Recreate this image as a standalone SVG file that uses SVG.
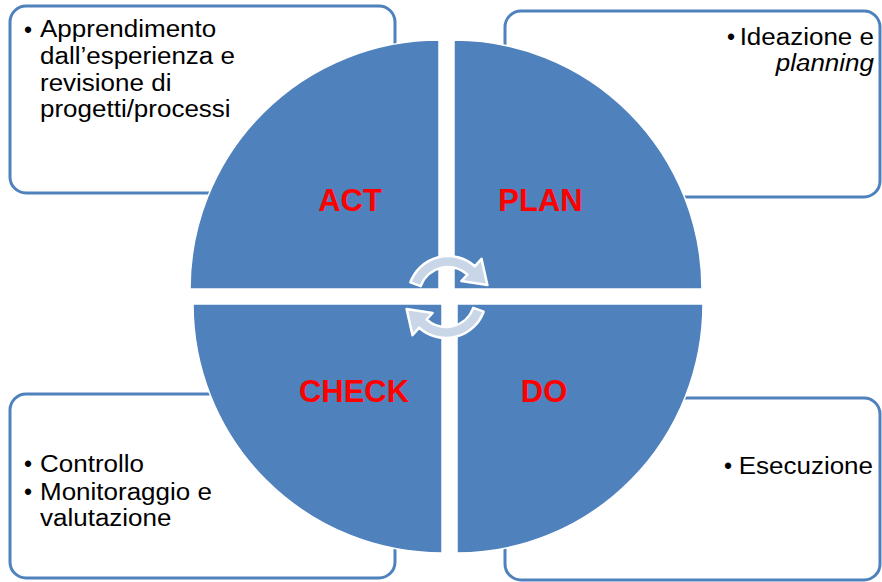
<svg xmlns="http://www.w3.org/2000/svg" xmlns:xlink="http://www.w3.org/1999/xlink" width="882" height="582" viewBox="0 0 882 582">
<style>
.box{fill:#ffffff;stroke:#4f81bd;stroke-width:3}
.quad{fill:#4f81bd;stroke:#ffffff;stroke-width:1.5}
.lbl{font-family:"Liberation Sans",Arial,sans-serif;font-weight:bold;font-size:31px;fill:#ff0000;text-anchor:middle}
.txt{font-family:"Liberation Sans",Arial,sans-serif;font-size:23px;fill:#000000}
.bul{font-family:"Liberation Sans",Arial,sans-serif;font-size:23px;fill:#000000;text-anchor:middle}
.end{text-anchor:end}
.arw{fill:#c9d6e8;stroke:#ffffff;stroke-width:2.5;stroke-linejoin:round}
</style>
<defs>
<path id="carrow" d="M-37.6,-13.7 A40,40 0 0 1 26.8,-29.7 L33.5,-37.2 L39.4,-10.9 L13.4,-14.9 L19.4,-21.5 A29,29 0 0 0 -27.3,-9.9 Z"/>
</defs>
<rect width="882" height="582" fill="#ffffff"/>
<g id="box-act"><rect class="box" x="10" y="6" width="385" height="187" rx="16"/>
<text class="bul" x="28" y="37.5">•</text>
<g transform="translate(40 0) scale(1.13 1)">
<text class="txt" x="0" y="37.5">Apprendimento</text>
<text class="txt" x="0" y="64">dall’esperienza e</text>
<text class="txt" x="0" y="91">revisione di</text>
<text class="txt" x="0" y="117.5">progetti/processi</text></g></g>
<g id="box-plan"><rect class="box" x="505" y="11" width="375" height="186" rx="16"/>
<text class="bul" x="731" y="45">•</text>
<g transform="translate(874 0) scale(1.13 1)">
<text class="txt end" x="0" y="45">Ideazione e</text>
<text class="txt end" x="0" y="71" font-style="italic">planning</text></g></g>
<g id="box-check"><rect class="box" x="10" y="394" width="385" height="184" rx="16"/>
<text class="bul" x="28" y="472">•</text>
<text class="bul" x="28" y="500">•</text>
<g transform="translate(40 0) scale(1.13 1)">
<text class="txt" x="0" y="472">Controllo</text>
<text class="txt" x="0" y="500">Monitoraggio e</text>
<text class="txt" x="0" y="526.5">valutazione</text></g></g>
<g id="box-do"><rect class="box" x="505" y="398" width="375" height="182" rx="16"/>
<text class="bul" x="728" y="474">•</text>
<g transform="translate(873 0) scale(1.13 1)">
<text class="txt end" x="0" y="474">Esecuzione</text></g></g>
<g id="act"><path class="quad" d="M439,289 L190,289 A249,249 0 0 1 439,40 Z"/><text class="lbl" x="350" y="211">ACT</text></g>
<g id="plan"><path class="quad" d="M454,289 L454,40 A248,249 0 0 1 702,289 Z"/><text class="lbl" x="540.5" y="211">PLAN</text></g>
<g id="check"><path class="quad" d="M442,304 L442,553 A249,249 0 0 1 193,304 Z"/><text class="lbl" x="354" y="401.5">CHECK</text></g>
<g id="do"><path class="quad" d="M457,304 L703,304 A246,249 0 0 1 457,553 Z"/><text class="lbl" x="544" y="401.5">DO</text></g>
<g id="connectors">
<use xlink:href="#carrow" class="arw" transform="translate(448,296)"/>
<use xlink:href="#carrow" class="arw" transform="translate(446,298) rotate(180)"/>
</g>
</svg>
